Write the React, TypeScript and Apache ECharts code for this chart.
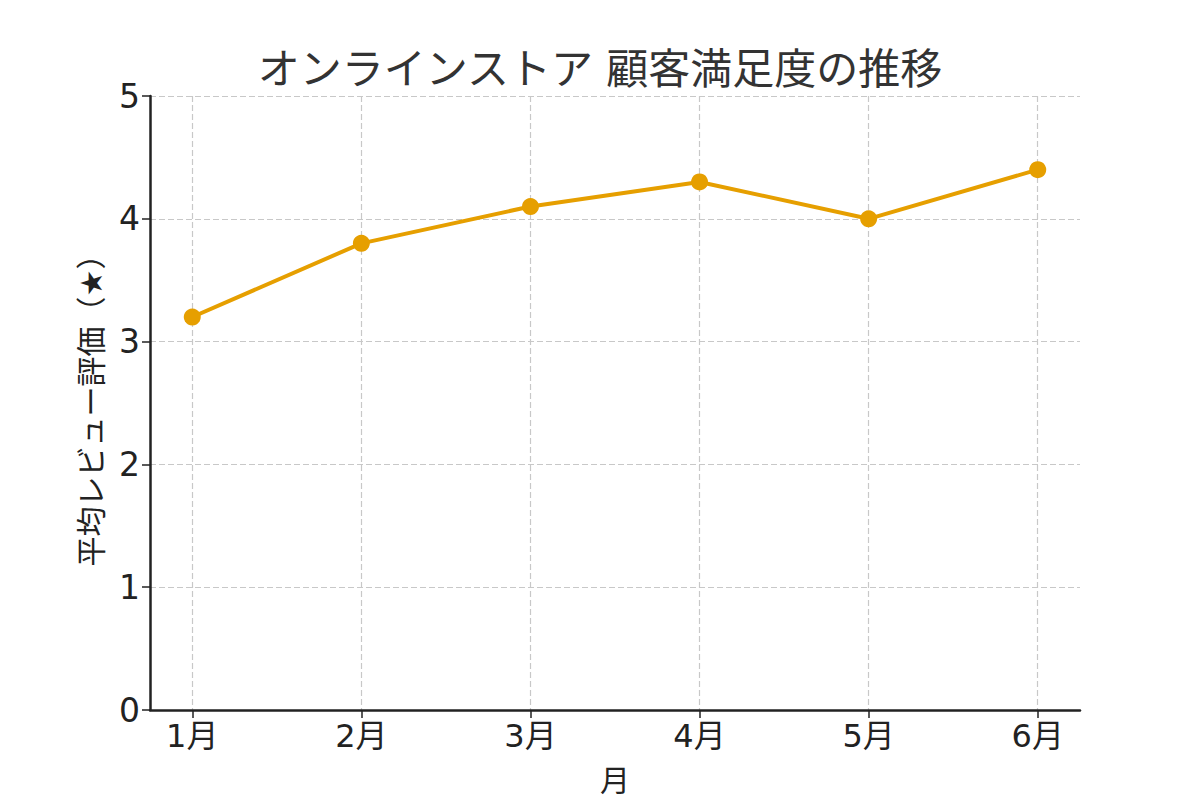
import React, { useEffect, useRef } from "react";
import * as echarts from "echarts";

const months = [1, 2, 3, 4, 5, 6];
const monthLabels = ["1月", "2月", "3月", "4月", "5月", "6月"];
const ratings = [3.2, 3.8, 4.1, 4.3, 4.0, 4.4];
const titleText = "オンラインストア 顧客満足度の推移";
const yName = "平均レビュー評価（★）";
const xName = "月";

const FONT = "'DejaVu Sans', 'Noto Sans CJK JP', sans-serif";

export default function App() {
  const ref = useRef<HTMLDivElement>(null);
  useEffect(() => {
    if (!ref.current) return;
    const chart = echarts.init(ref.current, null, { renderer: "svg" });
    const grid = { color: "#c8c8c8", type: [6, 3] as any, width: 1.2 };
    chart.setOption({
      animation: false,
      backgroundColor: "#ffffff",
      textStyle: { fontFamily: FONT },
      title: {
        text: titleText,
        left: "center",
        top: 43,
        textStyle: { fontFamily: FONT, fontSize: 42, fontWeight: "normal", color: "#333333" },
      },
      grid: { left: 150, right: 120, top: 96, bottom: 88, containLabel: false },
      xAxis: {
        type: "value",
        min: 0.75,
        max: 6.25,
        name: xName,
        nameLocation: "middle",
        nameGap: 55,
        nameTextStyle: { fontFamily: FONT, fontSize: 30, color: "#222222" },
        axisLine: { show: true, lineStyle: { color: "#222222", width: 2.5 } },
        axisTick: { show: true, customValues: months, length: 8, inside: false, lineStyle: { color: "#222222", width: 1.5 } },
        axisLabel: {
          customValues: months,
          formatter: (v: number) => monthLabels[Math.round(v) - 1] ?? "",
          fontFamily: FONT,
          fontSize: 32,
          color: "#222222",
          margin: 10,
        },
        splitLine: { show: true, lineStyle: grid },
      },
      yAxis: {
        type: "value",
        min: 0,
        max: 5,
        interval: 1,
        name: yName,
        nameLocation: "middle",
        nameGap: 44,
        nameTextStyle: { fontFamily: FONT, fontSize: 30, color: "#222222" },
        axisLine: { show: true, lineStyle: { color: "#222222", width: 2.5 } },
        axisTick: { show: true, length: 8, inside: false, lineStyle: { color: "#222222", width: 1.5 } },
        axisLabel: { fontFamily: FONT, fontSize: 33, color: "#222222", margin: 10 },
        splitLine: { show: true, lineStyle: grid },
      },
      series: [
        {
          type: "line",
          data: months.map((m, i) => [m, ratings[i]]),
          symbol: "circle",
          symbolSize: 17,
          lineStyle: { color: "#E69F00", width: 4 },
          itemStyle: { color: "#E69F00" },
        },
      ],
    });
    return () => chart.dispose();
  }, []);
  return (
    <div
      ref={ref}
      style={{ position: "fixed", left: 0, top: 0, width: 1200, height: 800, background: "#fff" }}
    />
  );
}
